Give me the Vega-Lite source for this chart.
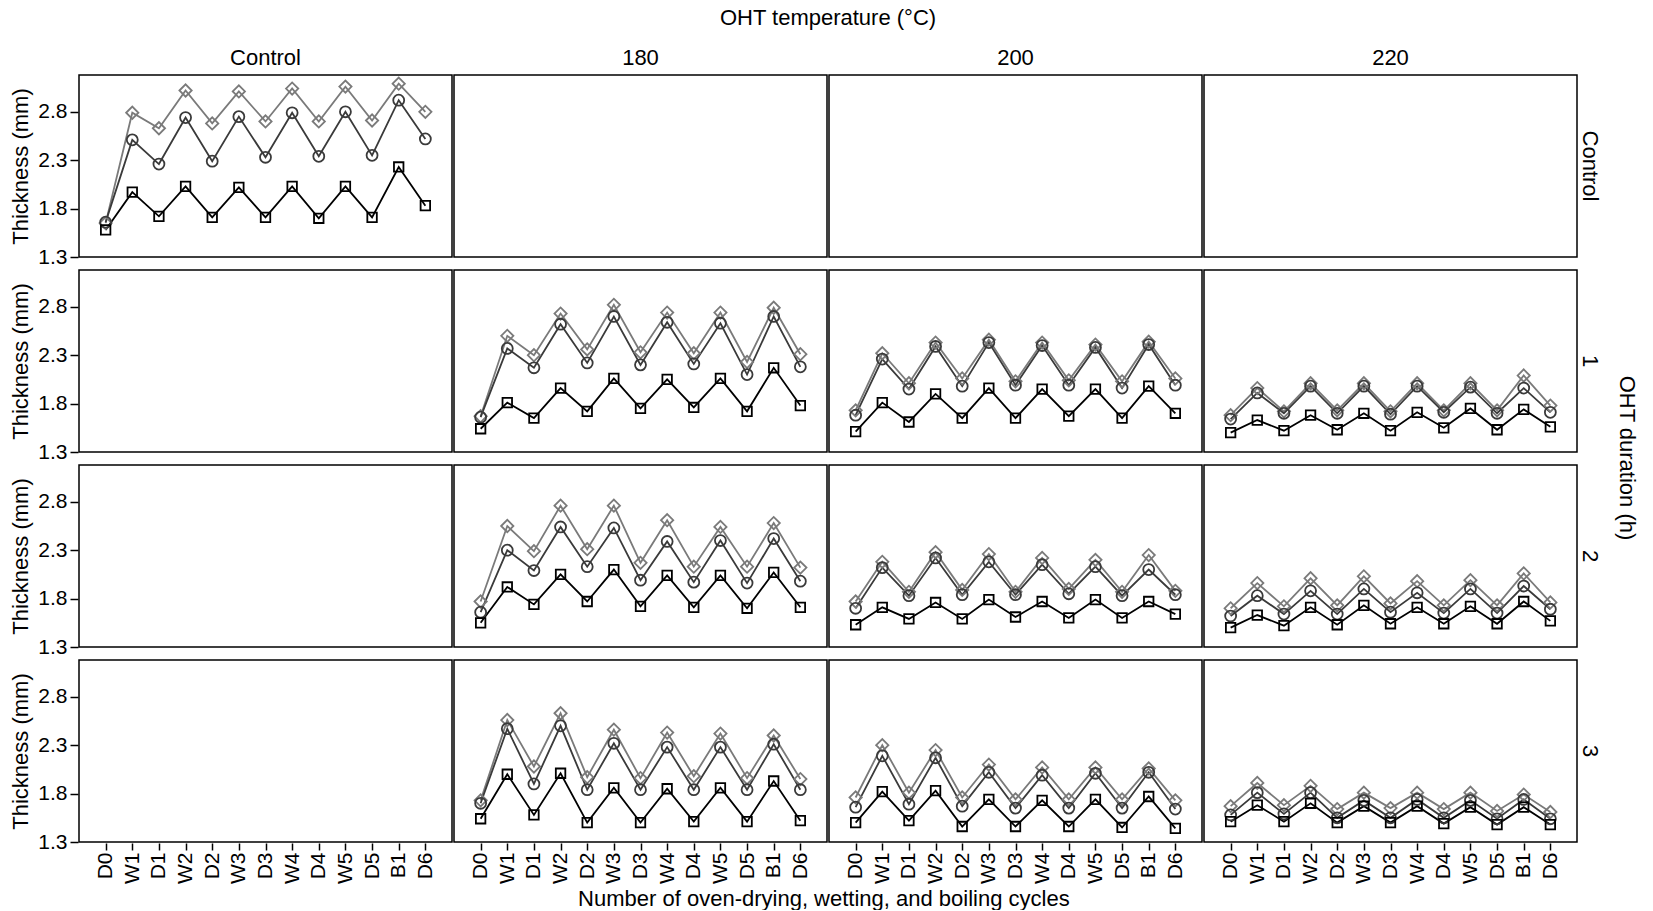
{
"$schema": "https://vega.github.io/schema/vega-lite/v6.json",
"padding": {"left": 9, "top": 7, "right": 0, "bottom": 0},
"title": {"text": "Number of oven-drying, wetting, and boiling cycles", "orient": "bottom", "anchor": "middle", "fontSize": 22, "fontWeight": "normal", "font": "Liberation Sans", "color": "#000000", "offset": 5},
"data": {"values": [
{"temp":"Control","dur":"1","s":"sq","cyc":"D0","v":null},{"temp":"Control","dur":"2","s":"sq","cyc":"D0","v":null},{"temp":"Control","dur":"3","s":"sq","cyc":"D0","v":null},{"temp":"180","dur":"Control","s":"sq","cyc":"D0","v":null},{"temp":"200","dur":"Control","s":"sq","cyc":"D0","v":null},{"temp":"220","dur":"Control","s":"sq","cyc":"D0","v":null},
{"temp":"Control","dur":"Control","s":"di","cyc":"D0","v":1.65},{"temp":"Control","dur":"Control","s":"di","cyc":"W1","v":2.79},{"temp":"Control","dur":"Control","s":"di","cyc":"D1","v":2.63},{"temp":"Control","dur":"Control","s":"di","cyc":"W2","v":3.02},{"temp":"Control","dur":"Control","s":"di","cyc":"D2","v":2.68},{"temp":"Control","dur":"Control","s":"di","cyc":"W3","v":3.01},{"temp":"Control","dur":"Control","s":"di","cyc":"D3","v":2.70},{"temp":"Control","dur":"Control","s":"di","cyc":"W4","v":3.04},{"temp":"Control","dur":"Control","s":"di","cyc":"D4","v":2.70},{"temp":"Control","dur":"Control","s":"di","cyc":"W5","v":3.06},{"temp":"Control","dur":"Control","s":"di","cyc":"D5","v":2.71},{"temp":"Control","dur":"Control","s":"di","cyc":"B1","v":3.09},{"temp":"Control","dur":"Control","s":"di","cyc":"D6","v":2.80},
{"temp":"Control","dur":"Control","s":"ci","cyc":"D0","v":1.66},{"temp":"Control","dur":"Control","s":"ci","cyc":"W1","v":2.51},{"temp":"Control","dur":"Control","s":"ci","cyc":"D1","v":2.26},{"temp":"Control","dur":"Control","s":"ci","cyc":"W2","v":2.74},{"temp":"Control","dur":"Control","s":"ci","cyc":"D2","v":2.29},{"temp":"Control","dur":"Control","s":"ci","cyc":"W3","v":2.75},{"temp":"Control","dur":"Control","s":"ci","cyc":"D3","v":2.33},{"temp":"Control","dur":"Control","s":"ci","cyc":"W4","v":2.79},{"temp":"Control","dur":"Control","s":"ci","cyc":"D4","v":2.34},{"temp":"Control","dur":"Control","s":"ci","cyc":"W5","v":2.80},{"temp":"Control","dur":"Control","s":"ci","cyc":"D5","v":2.35},{"temp":"Control","dur":"Control","s":"ci","cyc":"B1","v":2.92},{"temp":"Control","dur":"Control","s":"ci","cyc":"D6","v":2.52},
{"temp":"Control","dur":"Control","s":"sq","cyc":"D0","v":1.58},{"temp":"Control","dur":"Control","s":"sq","cyc":"W1","v":1.97},{"temp":"Control","dur":"Control","s":"sq","cyc":"D1","v":1.72},{"temp":"Control","dur":"Control","s":"sq","cyc":"W2","v":2.03},{"temp":"Control","dur":"Control","s":"sq","cyc":"D2","v":1.71},{"temp":"Control","dur":"Control","s":"sq","cyc":"W3","v":2.02},{"temp":"Control","dur":"Control","s":"sq","cyc":"D3","v":1.71},{"temp":"Control","dur":"Control","s":"sq","cyc":"W4","v":2.03},{"temp":"Control","dur":"Control","s":"sq","cyc":"D4","v":1.70},{"temp":"Control","dur":"Control","s":"sq","cyc":"W5","v":2.03},{"temp":"Control","dur":"Control","s":"sq","cyc":"D5","v":1.71},{"temp":"Control","dur":"Control","s":"sq","cyc":"B1","v":2.23},{"temp":"Control","dur":"Control","s":"sq","cyc":"D6","v":1.83},

{"temp":"180","dur":"1","s":"di","cyc":"D0","v":1.67},{"temp":"180","dur":"1","s":"di","cyc":"W1","v":2.50},{"temp":"180","dur":"1","s":"di","cyc":"D1","v":2.30},{"temp":"180","dur":"1","s":"di","cyc":"W2","v":2.73},{"temp":"180","dur":"1","s":"di","cyc":"D2","v":2.36},{"temp":"180","dur":"1","s":"di","cyc":"W3","v":2.82},{"temp":"180","dur":"1","s":"di","cyc":"D3","v":2.33},{"temp":"180","dur":"1","s":"di","cyc":"W4","v":2.74},{"temp":"180","dur":"1","s":"di","cyc":"D4","v":2.32},{"temp":"180","dur":"1","s":"di","cyc":"W5","v":2.74},{"temp":"180","dur":"1","s":"di","cyc":"D5","v":2.23},{"temp":"180","dur":"1","s":"di","cyc":"B1","v":2.79},{"temp":"180","dur":"1","s":"di","cyc":"D6","v":2.31},
{"temp":"180","dur":"1","s":"ci","cyc":"D0","v":1.66},{"temp":"180","dur":"1","s":"ci","cyc":"W1","v":2.37},{"temp":"180","dur":"1","s":"ci","cyc":"D1","v":2.17},{"temp":"180","dur":"1","s":"ci","cyc":"W2","v":2.62},{"temp":"180","dur":"1","s":"ci","cyc":"D2","v":2.22},{"temp":"180","dur":"1","s":"ci","cyc":"W3","v":2.70},{"temp":"180","dur":"1","s":"ci","cyc":"D3","v":2.20},{"temp":"180","dur":"1","s":"ci","cyc":"W4","v":2.64},{"temp":"180","dur":"1","s":"ci","cyc":"D4","v":2.21},{"temp":"180","dur":"1","s":"ci","cyc":"W5","v":2.63},{"temp":"180","dur":"1","s":"ci","cyc":"D5","v":2.10},{"temp":"180","dur":"1","s":"ci","cyc":"B1","v":2.70},{"temp":"180","dur":"1","s":"ci","cyc":"D6","v":2.18},
{"temp":"180","dur":"1","s":"sq","cyc":"D0","v":1.54},{"temp":"180","dur":"1","s":"sq","cyc":"W1","v":1.81},{"temp":"180","dur":"1","s":"sq","cyc":"D1","v":1.65},{"temp":"180","dur":"1","s":"sq","cyc":"W2","v":1.96},{"temp":"180","dur":"1","s":"sq","cyc":"D2","v":1.72},{"temp":"180","dur":"1","s":"sq","cyc":"W3","v":2.06},{"temp":"180","dur":"1","s":"sq","cyc":"D3","v":1.75},{"temp":"180","dur":"1","s":"sq","cyc":"W4","v":2.05},{"temp":"180","dur":"1","s":"sq","cyc":"D4","v":1.76},{"temp":"180","dur":"1","s":"sq","cyc":"W5","v":2.06},{"temp":"180","dur":"1","s":"sq","cyc":"D5","v":1.72},{"temp":"180","dur":"1","s":"sq","cyc":"B1","v":2.17},{"temp":"180","dur":"1","s":"sq","cyc":"D6","v":1.78},

{"temp":"200","dur":"1","s":"di","cyc":"D0","v":1.73},{"temp":"200","dur":"1","s":"di","cyc":"W1","v":2.32},{"temp":"200","dur":"1","s":"di","cyc":"D1","v":2.01},{"temp":"200","dur":"1","s":"di","cyc":"W2","v":2.43},{"temp":"200","dur":"1","s":"di","cyc":"D2","v":2.06},{"temp":"200","dur":"1","s":"di","cyc":"W3","v":2.46},{"temp":"200","dur":"1","s":"di","cyc":"D3","v":2.03},{"temp":"200","dur":"1","s":"di","cyc":"W4","v":2.43},{"temp":"200","dur":"1","s":"di","cyc":"D4","v":2.04},{"temp":"200","dur":"1","s":"di","cyc":"W5","v":2.41},{"temp":"200","dur":"1","s":"di","cyc":"D5","v":2.03},{"temp":"200","dur":"1","s":"di","cyc":"B1","v":2.44},{"temp":"200","dur":"1","s":"di","cyc":"D6","v":2.06},
{"temp":"200","dur":"1","s":"ci","cyc":"D0","v":1.68},{"temp":"200","dur":"1","s":"ci","cyc":"W1","v":2.26},{"temp":"200","dur":"1","s":"ci","cyc":"D1","v":1.95},{"temp":"200","dur":"1","s":"ci","cyc":"W2","v":2.39},{"temp":"200","dur":"1","s":"ci","cyc":"D2","v":1.98},{"temp":"200","dur":"1","s":"ci","cyc":"W3","v":2.43},{"temp":"200","dur":"1","s":"ci","cyc":"D3","v":1.99},{"temp":"200","dur":"1","s":"ci","cyc":"W4","v":2.40},{"temp":"200","dur":"1","s":"ci","cyc":"D4","v":1.99},{"temp":"200","dur":"1","s":"ci","cyc":"W5","v":2.38},{"temp":"200","dur":"1","s":"ci","cyc":"D5","v":1.96},{"temp":"200","dur":"1","s":"ci","cyc":"B1","v":2.41},{"temp":"200","dur":"1","s":"ci","cyc":"D6","v":1.99},
{"temp":"200","dur":"1","s":"sq","cyc":"D0","v":1.51},{"temp":"200","dur":"1","s":"sq","cyc":"W1","v":1.81},{"temp":"200","dur":"1","s":"sq","cyc":"D1","v":1.61},{"temp":"200","dur":"1","s":"sq","cyc":"W2","v":1.90},{"temp":"200","dur":"1","s":"sq","cyc":"D2","v":1.65},{"temp":"200","dur":"1","s":"sq","cyc":"W3","v":1.96},{"temp":"200","dur":"1","s":"sq","cyc":"D3","v":1.65},{"temp":"200","dur":"1","s":"sq","cyc":"W4","v":1.95},{"temp":"200","dur":"1","s":"sq","cyc":"D4","v":1.67},{"temp":"200","dur":"1","s":"sq","cyc":"W5","v":1.95},{"temp":"200","dur":"1","s":"sq","cyc":"D5","v":1.65},{"temp":"200","dur":"1","s":"sq","cyc":"B1","v":1.98},{"temp":"200","dur":"1","s":"sq","cyc":"D6","v":1.70},

{"temp":"220","dur":"1","s":"di","cyc":"D0","v":1.68},{"temp":"220","dur":"1","s":"di","cyc":"W1","v":1.96},{"temp":"220","dur":"1","s":"di","cyc":"D1","v":1.72},{"temp":"220","dur":"1","s":"di","cyc":"W2","v":2.01},{"temp":"220","dur":"1","s":"di","cyc":"D2","v":1.73},{"temp":"220","dur":"1","s":"di","cyc":"W3","v":2.01},{"temp":"220","dur":"1","s":"di","cyc":"D3","v":1.72},{"temp":"220","dur":"1","s":"di","cyc":"W4","v":2.01},{"temp":"220","dur":"1","s":"di","cyc":"D4","v":1.73},{"temp":"220","dur":"1","s":"di","cyc":"W5","v":2.01},{"temp":"220","dur":"1","s":"di","cyc":"D5","v":1.73},{"temp":"220","dur":"1","s":"di","cyc":"B1","v":2.09},{"temp":"220","dur":"1","s":"di","cyc":"D6","v":1.78},
{"temp":"220","dur":"1","s":"ci","cyc":"D0","v":1.64},{"temp":"220","dur":"1","s":"ci","cyc":"W1","v":1.91},{"temp":"220","dur":"1","s":"ci","cyc":"D1","v":1.70},{"temp":"220","dur":"1","s":"ci","cyc":"W2","v":1.98},{"temp":"220","dur":"1","s":"ci","cyc":"D2","v":1.70},{"temp":"220","dur":"1","s":"ci","cyc":"W3","v":1.98},{"temp":"220","dur":"1","s":"ci","cyc":"D3","v":1.69},{"temp":"220","dur":"1","s":"ci","cyc":"W4","v":1.98},{"temp":"220","dur":"1","s":"ci","cyc":"D4","v":1.71},{"temp":"220","dur":"1","s":"ci","cyc":"W5","v":1.97},{"temp":"220","dur":"1","s":"ci","cyc":"D5","v":1.70},{"temp":"220","dur":"1","s":"ci","cyc":"B1","v":1.96},{"temp":"220","dur":"1","s":"ci","cyc":"D6","v":1.71},
{"temp":"220","dur":"1","s":"sq","cyc":"D0","v":1.50},{"temp":"220","dur":"1","s":"sq","cyc":"W1","v":1.63},{"temp":"220","dur":"1","s":"sq","cyc":"D1","v":1.52},{"temp":"220","dur":"1","s":"sq","cyc":"W2","v":1.68},{"temp":"220","dur":"1","s":"sq","cyc":"D2","v":1.53},{"temp":"220","dur":"1","s":"sq","cyc":"W3","v":1.70},{"temp":"220","dur":"1","s":"sq","cyc":"D3","v":1.52},{"temp":"220","dur":"1","s":"sq","cyc":"W4","v":1.71},{"temp":"220","dur":"1","s":"sq","cyc":"D4","v":1.55},{"temp":"220","dur":"1","s":"sq","cyc":"W5","v":1.75},{"temp":"220","dur":"1","s":"sq","cyc":"D5","v":1.53},{"temp":"220","dur":"1","s":"sq","cyc":"B1","v":1.74},{"temp":"220","dur":"1","s":"sq","cyc":"D6","v":1.56},

{"temp":"180","dur":"2","s":"di","cyc":"D0","v":1.77},{"temp":"180","dur":"2","s":"di","cyc":"W1","v":2.55},{"temp":"180","dur":"2","s":"di","cyc":"D1","v":2.29},{"temp":"180","dur":"2","s":"di","cyc":"W2","v":2.76},{"temp":"180","dur":"2","s":"di","cyc":"D2","v":2.31},{"temp":"180","dur":"2","s":"di","cyc":"W3","v":2.76},{"temp":"180","dur":"2","s":"di","cyc":"D3","v":2.17},{"temp":"180","dur":"2","s":"di","cyc":"W4","v":2.61},{"temp":"180","dur":"2","s":"di","cyc":"D4","v":2.13},{"temp":"180","dur":"2","s":"di","cyc":"W5","v":2.54},{"temp":"180","dur":"2","s":"di","cyc":"D5","v":2.13},{"temp":"180","dur":"2","s":"di","cyc":"B1","v":2.58},{"temp":"180","dur":"2","s":"di","cyc":"D6","v":2.12},
{"temp":"180","dur":"2","s":"ci","cyc":"D0","v":1.66},{"temp":"180","dur":"2","s":"ci","cyc":"W1","v":2.30},{"temp":"180","dur":"2","s":"ci","cyc":"D1","v":2.09},{"temp":"180","dur":"2","s":"ci","cyc":"W2","v":2.54},{"temp":"180","dur":"2","s":"ci","cyc":"D2","v":2.13},{"temp":"180","dur":"2","s":"ci","cyc":"W3","v":2.53},{"temp":"180","dur":"2","s":"ci","cyc":"D3","v":1.99},{"temp":"180","dur":"2","s":"ci","cyc":"W4","v":2.39},{"temp":"180","dur":"2","s":"ci","cyc":"D4","v":1.97},{"temp":"180","dur":"2","s":"ci","cyc":"W5","v":2.40},{"temp":"180","dur":"2","s":"ci","cyc":"D5","v":1.96},{"temp":"180","dur":"2","s":"ci","cyc":"B1","v":2.42},{"temp":"180","dur":"2","s":"ci","cyc":"D6","v":1.98},
{"temp":"180","dur":"2","s":"sq","cyc":"D0","v":1.55},{"temp":"180","dur":"2","s":"sq","cyc":"W1","v":1.92},{"temp":"180","dur":"2","s":"sq","cyc":"D1","v":1.74},{"temp":"180","dur":"2","s":"sq","cyc":"W2","v":2.05},{"temp":"180","dur":"2","s":"sq","cyc":"D2","v":1.77},{"temp":"180","dur":"2","s":"sq","cyc":"W3","v":2.10},{"temp":"180","dur":"2","s":"sq","cyc":"D3","v":1.72},{"temp":"180","dur":"2","s":"sq","cyc":"W4","v":2.04},{"temp":"180","dur":"2","s":"sq","cyc":"D4","v":1.71},{"temp":"180","dur":"2","s":"sq","cyc":"W5","v":2.04},{"temp":"180","dur":"2","s":"sq","cyc":"D5","v":1.70},{"temp":"180","dur":"2","s":"sq","cyc":"B1","v":2.07},{"temp":"180","dur":"2","s":"sq","cyc":"D6","v":1.71},

{"temp":"200","dur":"2","s":"di","cyc":"D0","v":1.77},{"temp":"200","dur":"2","s":"di","cyc":"W1","v":2.18},{"temp":"200","dur":"2","s":"di","cyc":"D1","v":1.87},{"temp":"200","dur":"2","s":"di","cyc":"W2","v":2.28},{"temp":"200","dur":"2","s":"di","cyc":"D2","v":1.89},{"temp":"200","dur":"2","s":"di","cyc":"W3","v":2.26},{"temp":"200","dur":"2","s":"di","cyc":"D3","v":1.87},{"temp":"200","dur":"2","s":"di","cyc":"W4","v":2.22},{"temp":"200","dur":"2","s":"di","cyc":"D4","v":1.90},{"temp":"200","dur":"2","s":"di","cyc":"W5","v":2.20},{"temp":"200","dur":"2","s":"di","cyc":"D5","v":1.87},{"temp":"200","dur":"2","s":"di","cyc":"B1","v":2.25},{"temp":"200","dur":"2","s":"di","cyc":"D6","v":1.88},
{"temp":"200","dur":"2","s":"ci","cyc":"D0","v":1.70},{"temp":"200","dur":"2","s":"ci","cyc":"W1","v":2.12},{"temp":"200","dur":"2","s":"ci","cyc":"D1","v":1.83},{"temp":"200","dur":"2","s":"ci","cyc":"W2","v":2.22},{"temp":"200","dur":"2","s":"ci","cyc":"D2","v":1.84},{"temp":"200","dur":"2","s":"ci","cyc":"W3","v":2.18},{"temp":"200","dur":"2","s":"ci","cyc":"D3","v":1.84},{"temp":"200","dur":"2","s":"ci","cyc":"W4","v":2.15},{"temp":"200","dur":"2","s":"ci","cyc":"D4","v":1.85},{"temp":"200","dur":"2","s":"ci","cyc":"W5","v":2.13},{"temp":"200","dur":"2","s":"ci","cyc":"D5","v":1.83},{"temp":"200","dur":"2","s":"ci","cyc":"B1","v":2.10},{"temp":"200","dur":"2","s":"ci","cyc":"D6","v":1.84},
{"temp":"200","dur":"2","s":"sq","cyc":"D0","v":1.53},{"temp":"200","dur":"2","s":"sq","cyc":"W1","v":1.71},{"temp":"200","dur":"2","s":"sq","cyc":"D1","v":1.59},{"temp":"200","dur":"2","s":"sq","cyc":"W2","v":1.76},{"temp":"200","dur":"2","s":"sq","cyc":"D2","v":1.59},{"temp":"200","dur":"2","s":"sq","cyc":"W3","v":1.79},{"temp":"200","dur":"2","s":"sq","cyc":"D3","v":1.61},{"temp":"200","dur":"2","s":"sq","cyc":"W4","v":1.77},{"temp":"200","dur":"2","s":"sq","cyc":"D4","v":1.60},{"temp":"200","dur":"2","s":"sq","cyc":"W5","v":1.79},{"temp":"200","dur":"2","s":"sq","cyc":"D5","v":1.60},{"temp":"200","dur":"2","s":"sq","cyc":"B1","v":1.77},{"temp":"200","dur":"2","s":"sq","cyc":"D6","v":1.64},

{"temp":"220","dur":"2","s":"di","cyc":"D0","v":1.70},{"temp":"220","dur":"2","s":"di","cyc":"W1","v":1.96},{"temp":"220","dur":"2","s":"di","cyc":"D1","v":1.72},{"temp":"220","dur":"2","s":"di","cyc":"W2","v":2.01},{"temp":"220","dur":"2","s":"di","cyc":"D2","v":1.73},{"temp":"220","dur":"2","s":"di","cyc":"W3","v":2.03},{"temp":"220","dur":"2","s":"di","cyc":"D3","v":1.75},{"temp":"220","dur":"2","s":"di","cyc":"W4","v":1.98},{"temp":"220","dur":"2","s":"di","cyc":"D4","v":1.73},{"temp":"220","dur":"2","s":"di","cyc":"W5","v":1.99},{"temp":"220","dur":"2","s":"di","cyc":"D5","v":1.73},{"temp":"220","dur":"2","s":"di","cyc":"B1","v":2.06},{"temp":"220","dur":"2","s":"di","cyc":"D6","v":1.76},
{"temp":"220","dur":"2","s":"ci","cyc":"D0","v":1.62},{"temp":"220","dur":"2","s":"ci","cyc":"W1","v":1.83},{"temp":"220","dur":"2","s":"ci","cyc":"D1","v":1.64},{"temp":"220","dur":"2","s":"ci","cyc":"W2","v":1.88},{"temp":"220","dur":"2","s":"ci","cyc":"D2","v":1.64},{"temp":"220","dur":"2","s":"ci","cyc":"W3","v":1.90},{"temp":"220","dur":"2","s":"ci","cyc":"D3","v":1.66},{"temp":"220","dur":"2","s":"ci","cyc":"W4","v":1.86},{"temp":"220","dur":"2","s":"ci","cyc":"D4","v":1.65},{"temp":"220","dur":"2","s":"ci","cyc":"W5","v":1.90},{"temp":"220","dur":"2","s":"ci","cyc":"D5","v":1.65},{"temp":"220","dur":"2","s":"ci","cyc":"B1","v":1.93},{"temp":"220","dur":"2","s":"ci","cyc":"D6","v":1.69},
{"temp":"220","dur":"2","s":"sq","cyc":"D0","v":1.50},{"temp":"220","dur":"2","s":"sq","cyc":"W1","v":1.63},{"temp":"220","dur":"2","s":"sq","cyc":"D1","v":1.52},{"temp":"220","dur":"2","s":"sq","cyc":"W2","v":1.71},{"temp":"220","dur":"2","s":"sq","cyc":"D2","v":1.53},{"temp":"220","dur":"2","s":"sq","cyc":"W3","v":1.73},{"temp":"220","dur":"2","s":"sq","cyc":"D3","v":1.54},{"temp":"220","dur":"2","s":"sq","cyc":"W4","v":1.71},{"temp":"220","dur":"2","s":"sq","cyc":"D4","v":1.54},{"temp":"220","dur":"2","s":"sq","cyc":"W5","v":1.72},{"temp":"220","dur":"2","s":"sq","cyc":"D5","v":1.54},{"temp":"220","dur":"2","s":"sq","cyc":"B1","v":1.77},{"temp":"220","dur":"2","s":"sq","cyc":"D6","v":1.57},

{"temp":"180","dur":"3","s":"di","cyc":"D0","v":1.73},{"temp":"180","dur":"3","s":"di","cyc":"W1","v":2.56},{"temp":"180","dur":"3","s":"di","cyc":"D1","v":2.08},{"temp":"180","dur":"3","s":"di","cyc":"W2","v":2.63},{"temp":"180","dur":"3","s":"di","cyc":"D2","v":1.97},{"temp":"180","dur":"3","s":"di","cyc":"W3","v":2.46},{"temp":"180","dur":"3","s":"di","cyc":"D3","v":1.96},{"temp":"180","dur":"3","s":"di","cyc":"W4","v":2.43},{"temp":"180","dur":"3","s":"di","cyc":"D4","v":1.98},{"temp":"180","dur":"3","s":"di","cyc":"W5","v":2.42},{"temp":"180","dur":"3","s":"di","cyc":"D5","v":1.96},{"temp":"180","dur":"3","s":"di","cyc":"B1","v":2.40},{"temp":"180","dur":"3","s":"di","cyc":"D6","v":1.95},
{"temp":"180","dur":"3","s":"ci","cyc":"D0","v":1.70},{"temp":"180","dur":"3","s":"ci","cyc":"W1","v":2.47},{"temp":"180","dur":"3","s":"ci","cyc":"D1","v":1.90},{"temp":"180","dur":"3","s":"ci","cyc":"W2","v":2.50},{"temp":"180","dur":"3","s":"ci","cyc":"D2","v":1.84},{"temp":"180","dur":"3","s":"ci","cyc":"W3","v":2.32},{"temp":"180","dur":"3","s":"ci","cyc":"D3","v":1.84},{"temp":"180","dur":"3","s":"ci","cyc":"W4","v":2.28},{"temp":"180","dur":"3","s":"ci","cyc":"D4","v":1.84},{"temp":"180","dur":"3","s":"ci","cyc":"W5","v":2.28},{"temp":"180","dur":"3","s":"ci","cyc":"D5","v":1.84},{"temp":"180","dur":"3","s":"ci","cyc":"B1","v":2.31},{"temp":"180","dur":"3","s":"ci","cyc":"D6","v":1.84},
{"temp":"180","dur":"3","s":"sq","cyc":"D0","v":1.54},{"temp":"180","dur":"3","s":"sq","cyc":"W1","v":2.00},{"temp":"180","dur":"3","s":"sq","cyc":"D1","v":1.58},{"temp":"180","dur":"3","s":"sq","cyc":"W2","v":2.01},{"temp":"180","dur":"3","s":"sq","cyc":"D2","v":1.50},{"temp":"180","dur":"3","s":"sq","cyc":"W3","v":1.86},{"temp":"180","dur":"3","s":"sq","cyc":"D3","v":1.50},{"temp":"180","dur":"3","s":"sq","cyc":"W4","v":1.85},{"temp":"180","dur":"3","s":"sq","cyc":"D4","v":1.51},{"temp":"180","dur":"3","s":"sq","cyc":"W5","v":1.86},{"temp":"180","dur":"3","s":"sq","cyc":"D5","v":1.51},{"temp":"180","dur":"3","s":"sq","cyc":"B1","v":1.93},{"temp":"180","dur":"3","s":"sq","cyc":"D6","v":1.52},

{"temp":"200","dur":"3","s":"di","cyc":"D0","v":1.76},{"temp":"200","dur":"3","s":"di","cyc":"W1","v":2.30},{"temp":"200","dur":"3","s":"di","cyc":"D1","v":1.81},{"temp":"200","dur":"3","s":"di","cyc":"W2","v":2.25},{"temp":"200","dur":"3","s":"di","cyc":"D2","v":1.76},{"temp":"200","dur":"3","s":"di","cyc":"W3","v":2.10},{"temp":"200","dur":"3","s":"di","cyc":"D3","v":1.74},{"temp":"200","dur":"3","s":"di","cyc":"W4","v":2.07},{"temp":"200","dur":"3","s":"di","cyc":"D4","v":1.74},{"temp":"200","dur":"3","s":"di","cyc":"W5","v":2.07},{"temp":"200","dur":"3","s":"di","cyc":"D5","v":1.74},{"temp":"200","dur":"3","s":"di","cyc":"B1","v":2.06},{"temp":"200","dur":"3","s":"di","cyc":"D6","v":1.73},
{"temp":"200","dur":"3","s":"ci","cyc":"D0","v":1.66},{"temp":"200","dur":"3","s":"ci","cyc":"W1","v":2.19},{"temp":"200","dur":"3","s":"ci","cyc":"D1","v":1.69},{"temp":"200","dur":"3","s":"ci","cyc":"W2","v":2.17},{"temp":"200","dur":"3","s":"ci","cyc":"D2","v":1.67},{"temp":"200","dur":"3","s":"ci","cyc":"W3","v":2.02},{"temp":"200","dur":"3","s":"ci","cyc":"D3","v":1.65},{"temp":"200","dur":"3","s":"ci","cyc":"W4","v":1.99},{"temp":"200","dur":"3","s":"ci","cyc":"D4","v":1.65},{"temp":"200","dur":"3","s":"ci","cyc":"W5","v":2.01},{"temp":"200","dur":"3","s":"ci","cyc":"D5","v":1.65},{"temp":"200","dur":"3","s":"ci","cyc":"B1","v":2.02},{"temp":"200","dur":"3","s":"ci","cyc":"D6","v":1.64},
{"temp":"200","dur":"3","s":"sq","cyc":"D0","v":1.50},{"temp":"200","dur":"3","s":"sq","cyc":"W1","v":1.82},{"temp":"200","dur":"3","s":"sq","cyc":"D1","v":1.52},{"temp":"200","dur":"3","s":"sq","cyc":"W2","v":1.83},{"temp":"200","dur":"3","s":"sq","cyc":"D2","v":1.46},{"temp":"200","dur":"3","s":"sq","cyc":"W3","v":1.74},{"temp":"200","dur":"3","s":"sq","cyc":"D3","v":1.46},{"temp":"200","dur":"3","s":"sq","cyc":"W4","v":1.73},{"temp":"200","dur":"3","s":"sq","cyc":"D4","v":1.46},{"temp":"200","dur":"3","s":"sq","cyc":"W5","v":1.74},{"temp":"200","dur":"3","s":"sq","cyc":"D5","v":1.45},{"temp":"200","dur":"3","s":"sq","cyc":"B1","v":1.77},{"temp":"200","dur":"3","s":"sq","cyc":"D6","v":1.44},

{"temp":"220","dur":"3","s":"di","cyc":"D0","v":1.67},{"temp":"220","dur":"3","s":"di","cyc":"W1","v":1.91},{"temp":"220","dur":"3","s":"di","cyc":"D1","v":1.68},{"temp":"220","dur":"3","s":"di","cyc":"W2","v":1.88},{"temp":"220","dur":"3","s":"di","cyc":"D2","v":1.64},{"temp":"220","dur":"3","s":"di","cyc":"W3","v":1.81},{"temp":"220","dur":"3","s":"di","cyc":"D3","v":1.65},{"temp":"220","dur":"3","s":"di","cyc":"W4","v":1.81},{"temp":"220","dur":"3","s":"di","cyc":"D4","v":1.64},{"temp":"220","dur":"3","s":"di","cyc":"W5","v":1.81},{"temp":"220","dur":"3","s":"di","cyc":"D5","v":1.62},{"temp":"220","dur":"3","s":"di","cyc":"B1","v":1.79},{"temp":"220","dur":"3","s":"di","cyc":"D6","v":1.61},
{"temp":"220","dur":"3","s":"ci","cyc":"D0","v":1.58},{"temp":"220","dur":"3","s":"ci","cyc":"W1","v":1.81},{"temp":"220","dur":"3","s":"ci","cyc":"D1","v":1.59},{"temp":"220","dur":"3","s":"ci","cyc":"W2","v":1.81},{"temp":"220","dur":"3","s":"ci","cyc":"D2","v":1.55},{"temp":"220","dur":"3","s":"ci","cyc":"W3","v":1.73},{"temp":"220","dur":"3","s":"ci","cyc":"D3","v":1.55},{"temp":"220","dur":"3","s":"ci","cyc":"W4","v":1.74},{"temp":"220","dur":"3","s":"ci","cyc":"D4","v":1.55},{"temp":"220","dur":"3","s":"ci","cyc":"W5","v":1.73},{"temp":"220","dur":"3","s":"ci","cyc":"D5","v":1.54},{"temp":"220","dur":"3","s":"ci","cyc":"B1","v":1.74},{"temp":"220","dur":"3","s":"ci","cyc":"D6","v":1.54},
{"temp":"220","dur":"3","s":"sq","cyc":"D0","v":1.51},{"temp":"220","dur":"3","s":"sq","cyc":"W1","v":1.68},{"temp":"220","dur":"3","s":"sq","cyc":"D1","v":1.51},{"temp":"220","dur":"3","s":"sq","cyc":"W2","v":1.70},{"temp":"220","dur":"3","s":"sq","cyc":"D2","v":1.50},{"temp":"220","dur":"3","s":"sq","cyc":"W3","v":1.67},{"temp":"220","dur":"3","s":"sq","cyc":"D3","v":1.50},{"temp":"220","dur":"3","s":"sq","cyc":"W4","v":1.67},{"temp":"220","dur":"3","s":"sq","cyc":"D4","v":1.49},{"temp":"220","dur":"3","s":"sq","cyc":"W5","v":1.66},{"temp":"220","dur":"3","s":"sq","cyc":"D5","v":1.48},{"temp":"220","dur":"3","s":"sq","cyc":"B1","v":1.66},{"temp":"220","dur":"3","s":"sq","cyc":"D6","v":1.48}
]},
"facet": {
  "column": {"field": "temp", "type": "nominal", "sort": ["Control", "180", "200", "220"], "title": "OHT temperature (°C)", "header": {"labelPadding": 3, "titlePadding": 7}},
  "row": {"field": "dur", "type": "nominal", "sort": ["Control", "1", "2", "3"], "title": "OHT duration (h)", "header": {"labelOrient": "right", "titleOrient": "right", "labelAngle": 90, "titleAngle": 90, "labelPadding": 0, "titlePadding": 4}}
},
"spacing": {"row": 11, "column": 0},
"spec": {
  "width": 373,
  "height": 182,
  "encoding": {
    "x": {"field": "cyc", "type": "nominal", "sort": ["D0","W1","D1","W2","D2","W3","D3","W4","D4","W5","D5","B1","D6"], "scale": {"type": "point", "padding": 1.22}, "title": null},
    "y": {"field": "v", "type": "quantitative", "scale": {"domain": [1.3, 3.18], "nice": false, "zero": false}, "axis": {"values": [1.3, 1.8, 2.3, 2.8], "format": ".1f"}, "title": "Thickness (mm)"},
    "color": {"field": "s", "type": "nominal", "scale": {"domain": ["di", "ci", "sq"], "range": ["#7a7a7a", "#3a3a3a", "#000000"]}, "legend": null}
  },
  "layer": [
    {"mark": {"type": "line", "strokeWidth": 1.8}},
    {"mark": {"type": "point", "filled": false, "strokeWidth": 1.8, "opacity": 1},
     "encoding": {
       "shape": {"field": "s", "type": "nominal", "scale": {"domain": ["di", "ci", "sq"], "range": ["diamond", "circle", "square"]}, "legend": null},
       "size": {"field": "s", "type": "nominal", "scale": {"domain": ["di", "ci", "sq"], "range": [150, 90, 100]}, "legend": null}
     }}
  ]
},
"config": {
  "font": "Liberation Sans",
  "view": {"stroke": "#000000", "strokeWidth": 1.5},
  "axis": {"labelFontSize": 21, "titleFontSize": 22, "titleFontWeight": "normal", "labelColor": "#000000", "titleColor": "#000000", "tickColor": "#000000", "domain": false, "grid": false, "tickSize": 8, "tickWidth": 1.5, "labelPadding": 3},
  "axisX": {"labelAngle": -90, "labelPadding": 2, "tickSize": 7},
  "axisY": {"titlePadding": 5},
  "header": {"labelFontSize": 22, "titleFontSize": 22, "titleFontWeight": "normal", "labelColor": "#000000", "titleColor": "#000000", "labelFont": "Liberation Sans", "titleFont": "Liberation Sans"}
}
}
